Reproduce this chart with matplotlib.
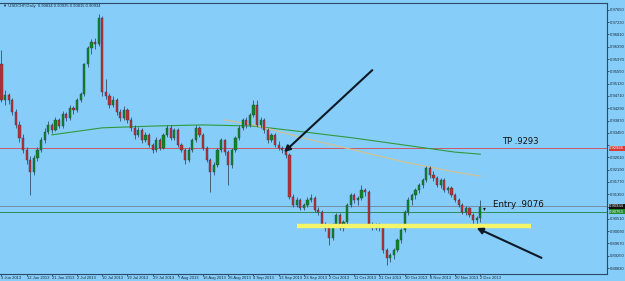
import matplotlib
matplotlib.use("Agg")
import matplotlib.pyplot as plt
import numpy as np

# ---- data (USDCHF daily) ----
opens = [0.9580,0.9457,0.9474,0.9457,0.9416,0.9372,0.9327,0.9286,0.9252,0.9211,
         0.9259,0.9286,0.9320,0.9348,0.9372,0.9355,0.9389,0.9368,0.9409,0.9396,
         0.9430,0.9423,0.9457,0.9477,0.9580,0.9635,0.9655,0.9648,0.9737,0.9484,
         0.9471,0.9440,0.9457,0.9416,0.9396,0.9423,0.9389,0.9362,0.9338,0.9355,
         0.9320,0.9338,0.9303,0.9286,0.9320,0.9293,0.9338,0.9362,0.9327,0.9355,
         0.9303,0.9286,0.9252,0.9286,0.9320,0.9362,0.9338,0.9293,0.9252,0.9211,
         0.9235,0.9286,0.9320,0.9279,0.9235,0.9286,0.9327,0.9362,0.9389,0.9372,
         0.9406,0.9440,0.9372,0.9389,0.9355,0.9320,0.9338,0.9303,0.9293,0.9286,
         0.9269,0.9126,0.9098,0.9116,0.9088,0.9098,0.9116,0.9122,0.9081,0.9074,
         0.9030,0.9020,0.8986,0.9030,0.9064,0.9020,0.9040,0.9098,0.9133,0.9116,
         0.9122,0.9150,0.9143,0.9030,0.9020,0.9030,0.9020,0.8945,0.8918,0.8928,
         0.8945,0.8979,0.9013,0.9074,0.9116,0.9133,0.9150,0.9167,0.9184,0.9225,
         0.9201,0.9191,0.9167,0.9184,0.9150,0.9157,0.9133,0.9116,0.9098,0.9074,
         0.9088,0.9064,0.9047,0.9054]
highs = [0.9628,0.9490,0.9480,0.9465,0.9425,0.9385,0.9340,0.9295,0.9265,0.9268,
         0.9295,0.9330,0.9360,0.9385,0.9380,0.9400,0.9395,0.9418,0.9415,0.9440,
         0.9438,0.9465,0.9485,0.9585,0.9640,0.9665,0.9668,0.9752,0.9745,0.9530,
         0.9480,0.9470,0.9465,0.9425,0.9435,0.9430,0.9398,0.9370,0.9365,0.9362,
         0.9348,0.9345,0.9310,0.9330,0.9328,0.9345,0.9372,0.9370,0.9362,0.9360,
         0.9310,0.9292,0.9295,0.9328,0.9370,0.9368,0.9345,0.9300,0.9260,0.9245,
         0.9292,0.9328,0.9325,0.9285,0.9292,0.9335,0.9370,0.9395,0.9398,0.9412,
         0.9457,0.9457,0.9398,0.9395,0.9362,0.9345,0.9345,0.9318,0.9300,0.9295,
         0.9275,0.9135,0.9125,0.9122,0.9105,0.9125,0.9135,0.9128,0.9090,0.9080,
         0.9042,0.9028,0.9038,0.9072,0.9070,0.9048,0.9105,0.9140,0.9140,0.9130,
         0.9167,0.9158,0.9150,0.9040,0.9038,0.9036,0.9028,0.8952,0.8935,0.8952,
         0.8985,0.9020,0.9082,0.9125,0.9140,0.9158,0.9175,0.9192,0.9232,0.9230,
         0.9215,0.9198,0.9190,0.9190,0.9165,0.9162,0.9140,0.9122,0.9105,0.9095,
         0.9092,0.9070,0.9060,0.9116]
lows = [0.9450,0.9440,0.9445,0.9405,0.9360,0.9315,0.9275,0.9240,0.9133,0.9200,
        0.9250,0.9278,0.9310,0.9340,0.9345,0.9350,0.9360,0.9360,0.9385,0.9390,
        0.9410,0.9415,0.9450,0.9470,0.9570,0.9615,0.9630,0.9640,0.9470,0.9460,
        0.9430,0.9432,0.9405,0.9385,0.9390,0.9380,0.9350,0.9325,0.9330,0.9310,
        0.9312,0.9295,0.9275,0.9280,0.9285,0.9288,0.9330,0.9320,0.9320,0.9295,
        0.9278,0.9240,0.9245,0.9280,0.9315,0.9330,0.9285,0.9245,0.9143,0.9200,
        0.9228,0.9280,0.9270,0.9167,0.9225,0.9280,0.9320,0.9355,0.9360,0.9365,
        0.9400,0.9365,0.9360,0.9345,0.9310,0.9312,0.9295,0.9285,0.9275,0.9260,
        0.9118,0.9090,0.9090,0.9080,0.9080,0.9092,0.9110,0.9075,0.9065,0.9022,
        0.9010,0.8962,0.8980,0.9022,0.9012,0.9010,0.9032,0.9090,0.9105,0.9100,
        0.9115,0.9130,0.9022,0.9012,0.9012,0.9010,0.8935,0.8894,0.8905,0.8915,
        0.8938,0.8970,0.9005,0.9065,0.9100,0.9120,0.9140,0.9155,0.9178,0.9192,
        0.9180,0.9160,0.9158,0.9142,0.9140,0.9125,0.9108,0.9090,0.9068,0.9065,
        0.9058,0.9030,0.9035,0.9040]
closes = [0.9457,0.9474,0.9457,0.9416,0.9372,0.9327,0.9286,0.9252,0.9211,0.9259,
          0.9286,0.9320,0.9348,0.9372,0.9355,0.9389,0.9368,0.9409,0.9396,0.9430,
          0.9423,0.9457,0.9477,0.9580,0.9635,0.9655,0.9648,0.9737,0.9484,0.9471,
          0.9440,0.9457,0.9416,0.9396,0.9423,0.9389,0.9362,0.9338,0.9355,0.9320,
          0.9338,0.9303,0.9286,0.9320,0.9293,0.9338,0.9362,0.9327,0.9355,0.9303,
          0.9286,0.9252,0.9286,0.9320,0.9362,0.9338,0.9293,0.9252,0.9211,0.9235,
          0.9286,0.9320,0.9279,0.9235,0.9286,0.9327,0.9362,0.9389,0.9372,0.9406,
          0.9440,0.9372,0.9389,0.9355,0.9320,0.9338,0.9303,0.9293,0.9286,0.9269,
          0.9126,0.9098,0.9116,0.9088,0.9098,0.9116,0.9122,0.9081,0.9074,0.9030,
          0.9020,0.8986,0.9030,0.9064,0.9020,0.9040,0.9098,0.9133,0.9116,0.9122,
          0.9150,0.9143,0.9030,0.9020,0.9030,0.9020,0.8945,0.8918,0.8928,0.8945,
          0.8979,0.9013,0.9074,0.9116,0.9133,0.9150,0.9167,0.9184,0.9225,0.9201,
          0.9191,0.9167,0.9184,0.9150,0.9157,0.9133,0.9116,0.9098,0.9074,0.9088,
          0.9064,0.9047,0.9054,0.9093]

# moving averages, read at sample bars
ma_slow_idx = [14, 28, 42, 56, 70, 84, 98, 112, 126, 133]
ma_slow_val = [0.9338, 0.9362, 0.9368, 0.9372, 0.9368, 0.9348, 0.9327, 0.9303, 0.9279, 0.9272]
ma_fast_idx = [62, 70, 84, 98, 112, 126, 133]
ma_fast_val = [0.9389, 0.9372, 0.9327, 0.9286, 0.9245, 0.9211, 0.9197]

date_labels = ["3 Jun 2013","12 Jun 2013","21 Jun 2013","2 Jul 2013","10 Jul 2013",
               "19 Jul 2013","29 Jul 2013","7 Aug 2013","16 Aug 2013","26 Aug 2013",
               "4 Sep 2013","13 Sep 2013","23 Sep 2013","2 Oct 2013","11 Oct 2013",
               "21 Oct 2013","30 Oct 2013","8 Nov 2013","20 Nov 2013","2 Dec 2013"]
date_idx = [0,7,14,21,28,35,42,49,56,63,70,77,84,91,98,105,112,119,126,133]

price_ticks = [0.97650,0.97230,0.96810,0.96390,0.95970,0.95550,0.95130,0.94710,
               0.94290,0.93870,0.93450,0.93030,0.92610,0.92190,0.91770,0.91350,
               0.90930,0.90510,0.90090,0.89670,0.89250,0.88830]

tp_level = 0.9293
entry_level = 0.9076
bid_level = 0.90934
support_level = 0.9027
support_span = (82, 147)
arrow1 = ((103, 0.9559), (78.5, 0.9279))
arrow2 = ((150, 0.8918), (132, 0.9020))
title = "\u25bc USDCHF,Daily  0.90834 0.90935 0.90815 0.90934"
axis_marks = [(tp_level, "0.92926", "#d83a3a"), (bid_level, "0.90934", "#111111"),
              (entry_level, "0.90763", "#1f8a2e")]

# ---- figure ----
W, H = 625, 281
bg = "#87CDF9"
fig = plt.figure(figsize=(W/100, H/100), dpi=100)
fig.patch.set_facecolor(bg)
ax_top, ax_bot, ax_right = 3, 274, 607
ax = fig.add_axes([0, (H-ax_bot)/H, ax_right/W, (ax_bot-ax_top)/H])
ax.set_facecolor(bg)
ax.set_xlim(-0.4, 168.2)
ax.set_ylim(0.88628, 0.97883)

small = dict(family="Liberation Sans", size=3.0)

n = len(closes)
for i in range(n):
    o, h, l, c = opens[i], highs[i], lows[i], closes[i]
    up = c >= o
    col = "#0b8a1e" if up else "#c42b2b"
    ax.vlines(i, l, h, color="#35506a", lw=0.6, zorder=3)
    ax.bar(i, max(abs(c-o), 0.00012), bottom=min(o, c), width=0.62, color=col,
           edgecolor="#2c4058", linewidth=0.3, zorder=4)

ax.plot(ma_slow_idx, ma_slow_val, color="#2e9a3c", lw=0.8, zorder=2)
ax.plot(ma_fast_idx, ma_fast_val, color="#d9c08a", lw=0.8, zorder=2)

ax.axhline(tp_level, color="#c85a6a", lw=0.7, zorder=1)
ax.axhline(bid_level, color="#6f8496", lw=0.6, zorder=1)
ax.axhline(entry_level, color="#2e8b57", lw=0.7, zorder=1)
ax.hlines(support_level, support_span[0], support_span[1], color="#f5f56a", lw=3.2, zorder=5)

for (s, e) in (arrow1, arrow2):
    ax.annotate("", xy=e, xytext=s,
                arrowprops=dict(arrowstyle="-|>", color="#0d1a26", lw=1.5,
                                mutation_scale=9, shrinkA=0, shrinkB=0), zorder=6)

ax.text(139, tp_level + 0.0006, "TP .9293", fontsize=6, color="#111111", va="bottom", ha="left")
ax.text(133.8, entry_level + 0.0011, "\u25be", fontsize=4, color="#111111", va="center", ha="left")
ax.text(136.5, entry_level + 0.0010, "Entry .9076", fontsize=6.3, color="#111111", va="bottom", ha="left")

ax.text(0.005, 0.997, title, transform=ax.transAxes, fontsize=3.0, family="Liberation Sans",
        color="#1a2a3a", va="top", ha="left")

# axes styling
ax.spines["left"].set_visible(False)
for s in ["top", "right", "bottom"]:
    ax.spines[s].set_color("#2a4a6a")
    ax.spines[s].set_linewidth(0.8)
ax.yaxis.tick_right()
ax.set_yticks(price_ticks)
# labels hidden under the coloured price boxes are left blank (the boxes cover them)
ylab = []
for v in price_ticks:
    covered = any(abs(v - m[0]) < 0.0016 for m in axis_marks)
    ylab.append("" if covered else "%.5f" % v)
ax.set_yticklabels(ylab, fontdict=small)
ax.tick_params(axis="y", direction="out", length=1.5, width=0.5, pad=0.8, colors="#1a2a3a")
ax.set_xticks(date_idx)
ax.set_xticklabels(date_labels, ha="left", fontdict=small)
ax.tick_params(axis="x", direction="out", length=1.2, width=0.5, pad=0.3, colors="#1a2a3a")

# price labels on axis
for lvl, txt, fc in axis_marks:
    ax.annotate(txt, xy=(1.0, lvl), xycoords=("axes fraction", "data"), xytext=(1.7, 0),
                textcoords="offset points", family="Liberation Sans", fontsize=3.0,
                color="white", va="center", ha="left", zorder=10,
                bbox=dict(boxstyle="square,pad=0.12", fc=fc, ec="none"), annotation_clip=False)

fig.savefig("out.png", dpi=100, facecolor=fig.get_facecolor())
